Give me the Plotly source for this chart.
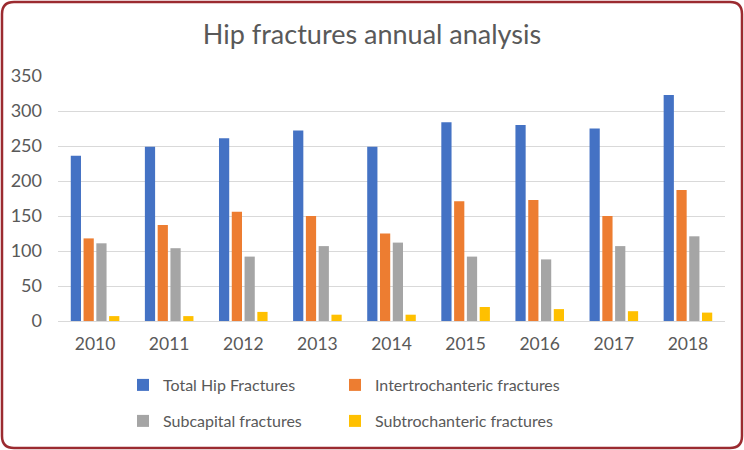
import plotly.graph_objects as go

years = ["2010", "2011", "2012", "2013", "2014", "2015", "2016", "2017", "2018"]
total = [236, 249, 261, 272, 249, 284, 280, 275, 323]
intertroch = [118, 137, 156, 150, 125, 171, 173, 150, 187]
subcapital = [111, 104, 92, 107, 112, 92, 88, 107, 121]
subtroch = [7, 7, 13, 9, 9, 20, 17, 14, 12]

names = ["Total Hip Fractures", "Intertrochanteric fractures",
         "Subcapital fractures", "Subtrochanteric fractures"]
colors = ["#4472C4", "#ED7D31", "#A5A5A5", "#FFC000"]
series = [total, intertroch, subcapital, subtroch]
legends = ["legend", "legend2", "legend3", "legend4"]

W, H = 744, 450
L, R, T, B = 58, 19, 76, 129
pw, ph = W - L - R, H - T - B

FONT = "Lato, Open Sans, sans-serif"
TXT = "#595959"

fig = go.Figure()
for n, c, s, lg in zip(names, colors, series, legends):
    fig.add_trace(go.Bar(x=years, y=s, name=n, marker=dict(color=c, line=dict(width=0)),
                         legend=lg, showlegend=True))

def px2x(px):
    return (px - L) / pw

def px2y(py):
    return (H - B - py) / ph

# rounded border
x0, x1, y0, y1, r = 2, 742, 2, 448, 12
pts = [
    f"M {px2x(x0 + r)} {px2y(y0)}",
    f"L {px2x(x1 - r)} {px2y(y0)}",
    f"Q {px2x(x1)} {px2y(y0)} {px2x(x1)} {px2y(y0 + r)}",
    f"L {px2x(x1)} {px2y(y1 - r)}",
    f"Q {px2x(x1)} {px2y(y1)} {px2x(x1 - r)} {px2y(y1)}",
    f"L {px2x(x0 + r)} {px2y(y1)}",
    f"Q {px2x(x0)} {px2y(y1)} {px2x(x0)} {px2y(y1 - r)}",
    f"L {px2x(x0)} {px2y(y0 + r)}",
    f"Q {px2x(x0)} {px2y(y0)} {px2x(x0 + r)} {px2y(y0)}",
    "Z",
]
fig.add_shape(type="path", xref="paper", yref="paper", path=" ".join(pts),
              line=dict(color="#9B2B30", width=2.5), layer="above")

leg_common = dict(orientation="h", font=dict(family=FONT, size=16, color=TXT),
                  bgcolor="rgba(0,0,0,0)", xanchor="left", yanchor="middle")
fig.update_layout(
    width=W, height=H,
    showlegend=True,
    margin=dict(l=L, r=R, t=T, b=B),
    paper_bgcolor="white", plot_bgcolor="white",
    title=dict(text="Hip fractures annual analysis", x=0.5, xanchor="center",
               y=1 - 35 / H, yanchor="middle",
               font=dict(family=FONT, size=27, color=TXT)),
    barmode="group", bargap=0.31, bargroupgap=0.2,
    legend=dict(x=px2x(123), y=px2y(385), **leg_common),
    legend2=dict(x=px2x(335), y=px2y(385), **leg_common),
    legend3=dict(x=px2x(123), y=px2y(421), **leg_common),
    legend4=dict(x=px2x(335), y=px2y(421), **leg_common),
    xaxis=dict(showgrid=False, showline=True, linecolor="#D9D9D9", linewidth=1,
               ticks="", tickfont=dict(family=FONT, size=17.5, color=TXT),
               ticklabelstandoff=7),
    yaxis=dict(range=[0, 350], dtick=50, showgrid=True, gridcolor="#D9D9D9",
               gridwidth=1, zeroline=False, showline=False, ticks="",
               tickfont=dict(family=FONT, size=18, color=TXT),
               ticklabelstandoff=15),
)

fig.write_html("out.html", config={"displayModeBar": False},
               post_script="document.body.style.margin='0';")
